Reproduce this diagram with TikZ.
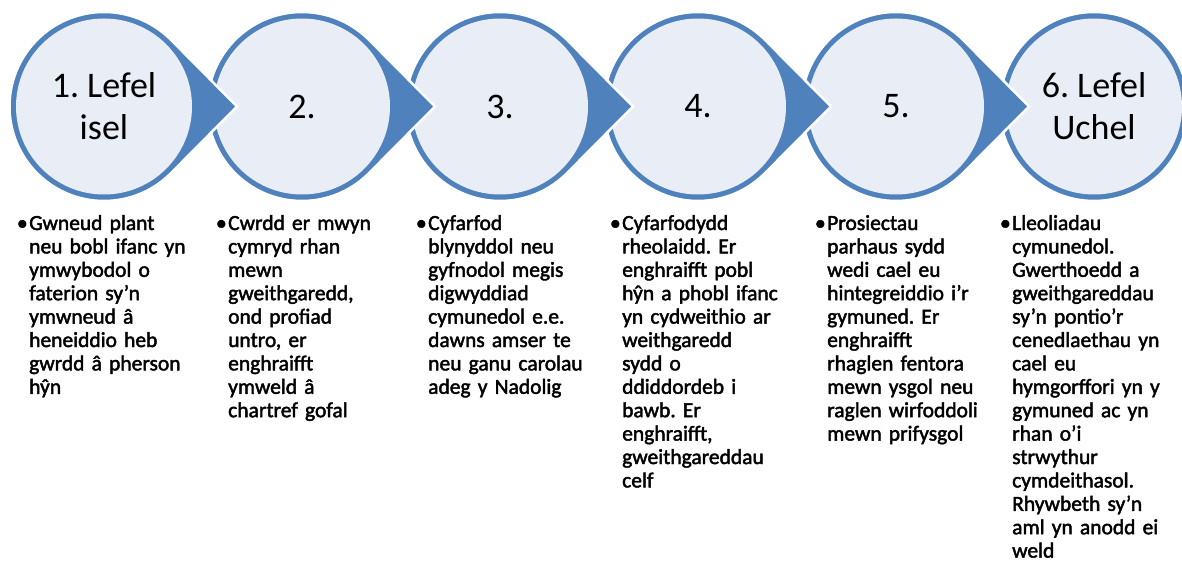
\documentclass[tikz,border=0pt]{standalone}
\usepackage{fontspec}
\setmainfont{Carlito}
\newfontfamily\bodyfont{Carlito}[FakeBold=2,WordSpace=0.6]
\definecolor{ringblue}{HTML}{4F81BD}
\definecolor{discfill}{HTML}{E9EEF6}
\newcommand{\itembul}{\llap{\textbullet\hspace{1.5pt}}}
\begin{document}
\frenchspacing
\begin{tikzpicture}[x=1pt,y=-1pt]
	\tikzstyle{drop} = [fill=ringblue,draw=white,line width=2.5pt,line join=miter]
	\tikzstyle{disc} = [circle,fill=discfill,minimum size=176pt,inner sep=0pt,align=center,font=\fontsize{36}{42}\selectfont]
	\tikzstyle{note} = [anchor=base west,inner sep=0pt,text width=172pt,align=left,font=\bodyfont\fontsize{21.5}{23.4}\selectfont]
	\useasboundingbox (0,0) rectangle (1182,561);
	\fill[white] (0,0) rectangle (1182,561);
	% centres of the six steps
	\coordinate (o1) at (104,106.5);
	\coordinate (o2) at (302,106.5);
	\coordinate (o3) at (500,106.5);
	\coordinate (o4) at (698,106.5);
	\coordinate (o5) at (896,106.5);
	\coordinate (o6) at (1094,106.5);
	% drawn from right to left, so each tip lies over the next ring
	\path[drop] (o6) circle[radius=94.5pt];
	\node[disc](c6) at (o6){6. Lefel\\Uchel};
	\path[drop] (o5) ++(45.6:94.5pt) arc[start angle=45.6,end angle=314.4,radius=94.5pt] -- ([xshift=133pt]o5) -- cycle;
	\node[disc](c5) at (o5){5.};
	\path[drop] (o4) ++(45.6:94.5pt) arc[start angle=45.6,end angle=314.4,radius=94.5pt] -- ([xshift=133pt]o4) -- cycle;
	\node[disc](c4) at (o4){4.};
	\path[drop] (o3) ++(45.6:94.5pt) arc[start angle=45.6,end angle=314.4,radius=94.5pt] -- ([xshift=133pt]o3) -- cycle;
	\node[disc](c3) at (o3){3.};
	\path[drop] (o2) ++(45.6:94.5pt) arc[start angle=45.6,end angle=314.4,radius=94.5pt] -- ([xshift=133pt]o2) -- cycle;
	\node[disc](c2) at (o2){2.};
	\path[drop] (o1) ++(45.6:94.5pt) arc[start angle=45.6,end angle=314.4,radius=94.5pt] -- ([xshift=133pt]o1) -- cycle;
	\node[disc](c1) at (o1){1. Lefel\\isel};
	% notes under each step
	\node[note](n1) at (29,230){\itembul Gwneud plant\\neu bobl ifanc yn\\ymwybodol o\\faterion sy’n\\ymwneud â\\heneiddio heb\\gwrdd â pherson\\hŷn};
	\node[note](n2) at (228,230){\itembul Cwrdd er mwyn\\cymryd rhan\\mewn\\gweithgaredd,\\ond profiad\\untro, er\\enghraifft\\ymweld â\\chartref gofal};
	\node[note](n3) at (428,230){\itembul Cyfarfod\\blynyddol neu\\gyfnodol megis\\digwyddiad\\cymunedol e.e.\\dawns amser te\\neu ganu carolau\\adeg y Nadolig};
	\node[note](n4) at (622,230){\itembul Cyfarfodydd\\rheolaidd. Er\\enghraifft pobl\\hŷn a phobl ifanc\\yn cydweithio ar\\weithgaredd\\sydd o\\ddiddordeb i\\bawb. Er\\enghraifft,\\gweithgareddau\\celf};
	\node[note](n5) at (827,230){\itembul Prosiectau\\parhaus sydd\\wedi cael eu\\hintegreiddio i’r\\gymuned. Er\\enghraifft\\rhaglen fentora\\mewn ysgol neu\\raglen wirfoddoli\\mewn prifysgol};
	\node[note](n6) at (1012,230){\itembul Lleoliadau\\cymunedol.\\Gwerthoedd a\\gweithgareddau\\sy’n pontio’r\\cenedlaethau yn\\cael eu\\hymgorffori yn y\\gymuned ac yn\\rhan o’i\\strwythur\\cymdeithasol.\\Rhywbeth sy’n\\aml yn anodd ei\\weld};
\end{tikzpicture}
\end{document}
